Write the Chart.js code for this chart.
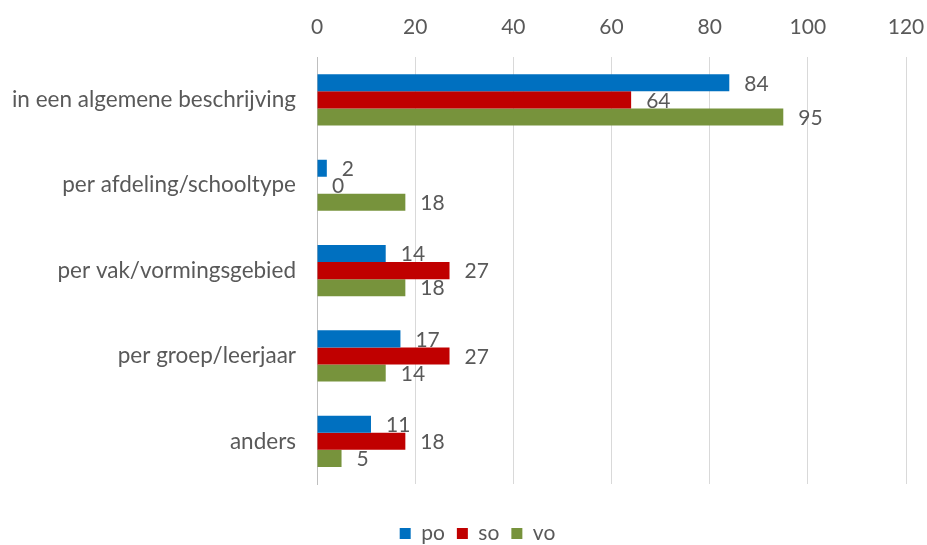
<!DOCTYPE html>
<html>
<head>
<meta charset="utf-8">
<script src="https://cdn.jsdelivr.net/npm/chart.js@4/dist/chart.umd.min.js"></script>
<style>
  body { margin: 0; background: #fff; }
  #wrap { width: 927px; height: 545px; }
</style>
</head>
<body>
<div id="wrap"><canvas id="myChart"></canvas></div>
<script>
const categories = ['in een algemene beschrijving', 'per afdeling/schooltype', 'per vak/vormingsgebied', 'per groep/leerjaar', 'anders'];
const po = [84, 2, 14, 17, 11];
const so = [64, 0, 27, 27, 18];
const vo = [95, 18, 18, 14, 5];
const xTicks = [0, 20, 40, 60, 80, 100, 120];

// value labels just right of each bar
const barLabels = {
  id: 'barLabels',
  afterDatasetsDraw(chart) {
    const ctx = chart.ctx;
    ctx.save();
    ctx.font = '21px Lato';
    ctx.fillStyle = '#595959';
    ctx.textAlign = 'left';
    ctx.textBaseline = 'middle';
    chart.data.datasets.forEach((ds, i) => {
      chart.getDatasetMeta(i).data.forEach((bar, j) => {
        ctx.fillText(ds.data[j], bar.x + 15, bar.y + 1);
      });
    });
    ctx.restore();
  }
};

// nudge the legend a bit to the right, like the original
const legendShift = {
  id: 'legendShift',
  afterLayout(chart) {
    chart.legend.left += 20;
    chart.legend.right += 20;
  }
};

const ctx = document.getElementById('myChart').getContext('2d');
const myChart = new Chart(ctx, {
  type: 'bar',
  data: {
    labels: categories,
    datasets: [
      { label: 'po', data: po, backgroundColor: '#0070C0' },
      { label: 'so', data: so, backgroundColor: '#C00000' },
      { label: 'vo', data: vo, backgroundColor: '#77933C' }
    ]
  },
  options: {
    indexAxis: 'y',
    responsive: true,
    maintainAspectRatio: false,
    animation: false,
    categoryPercentage: 0.6,
    barPercentage: 1.0,
    layout: { padding: { left: 9, right: 21, top: -2, bottom: -9 } },
    scales: {
      x: {
        position: 'top',
        min: 0,
        max: 120,
        afterBuildTicks(axis) { axis.ticks = xTicks.map(v => ({ value: v })); },
        afterFit(axis) { axis.paddingRight = 0; axis.paddingLeft = 0; },
        grid: { color: '#d9d9d9', drawTicks: false },
        border: { display: false },
        ticks: { color: '#595959', font: { family: 'Lato', size: 21 }, padding: 17 }
      },
      y: {
        afterFit(axis) { axis.width = 308; },
        grid: { display: false, drawTicks: false },
        border: { display: true, color: '#bfbfbf' },
        ticks: { color: '#595959', font: { family: 'Lato', size: 22.5 }, padding: 21 }
      }
    },
    plugins: {
      legend: {
        position: 'bottom',
        title: { display: true, text: ' ', font: { size: 18, lineHeight: 1 }, padding: 4.5 },
        labels: { color: '#595959', font: { family: 'Lato', size: 21, lineHeight: 1 }, boxWidth: 11, boxHeight: 11, padding: 12 }
      },
      tooltip: { enabled: false }
    }
  },
  plugins: [barLabels, legendShift]
});
</script>
</body>
</html>
